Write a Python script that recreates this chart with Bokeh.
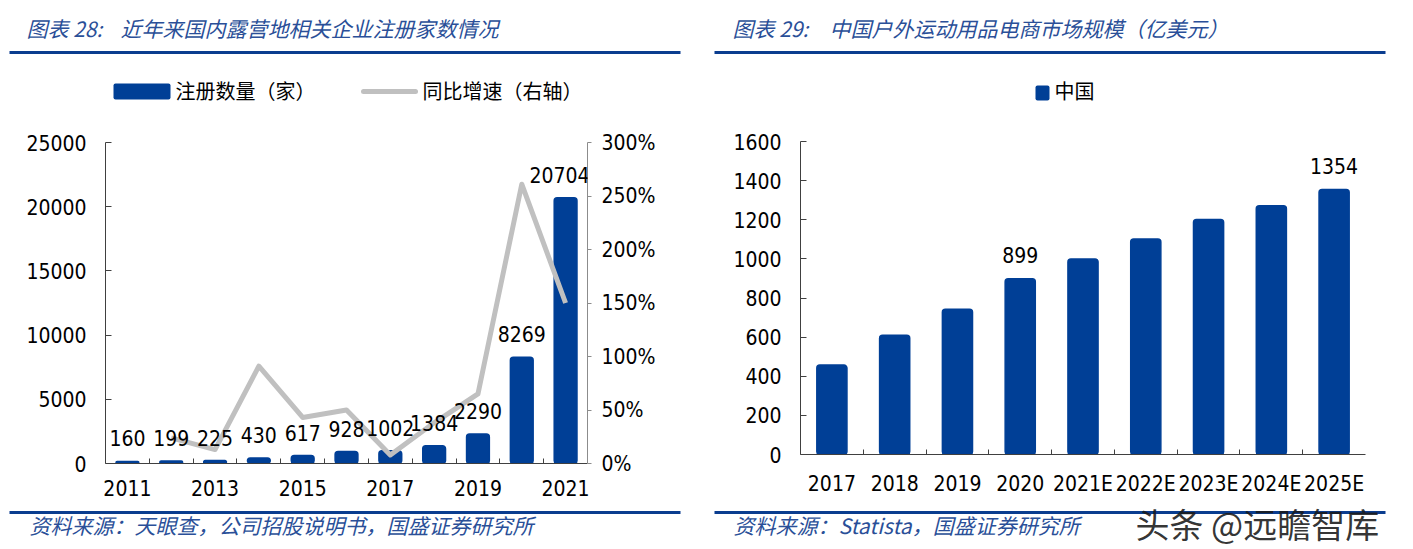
from bokeh.plotting import figure
from bokeh.models import (Range1d, LinearAxis, FixedTicker, ColumnDataSource,
                          LabelSet, Plot)
from bokeh.layouts import row, column
from bokeh.embed import file_html
from bokeh.resources import INLINE
from bokeh.core.properties import value

# ---------------- data: chart 28 ----------------
years_28 = ["2011", "2012", "2013", "2014", "2015", "2016",
            "2017", "2018", "2019", "2020", "2021"]
registrations = [160, 199, 225, 430, 617, 928, 1002, 1384, 2290, 8269, 20704]
yoy_growth_pct = [None, 24, 13, 91, 43, 50, 8, 38, 65, 261, 150]
tick_years_28 = ["2011", "2013", "2015", "2017", "2019", "2021"]
count_ticks = [0, 5000, 10000, 15000, 20000, 25000]
pct_ticks = [0, 50, 100, 150, 200, 250, 300]

# ---------------- data: chart 29 ----------------
years_29 = ["2017", "2018", "2019", "2020", "2021E", "2022E", "2023E", "2024E", "2025E"]
market_size = [457, 609, 742, 899, 1000, 1102, 1201, 1272, 1354]
shown_labels_29 = ["", "", "", "899", "", "", "", "", "1354"]
size_ticks = [0, 200, 400, 600, 800, 1000, 1200, 1400, 1600]

# ---------------- styles ----------------
BLUE = "#003f96"
RULE = "#0a3d8f"
TITLE_C = "#2a4f98"
GREY_LINE = "#c0c0c0"
AXIS_C = "#404040"
CJK = "Noto Sans CJK SC"
NUM = "DejaVu Sans Condensed, DejaVu Sans"
HAS_FRAME_ALIGN = "frame_align" in Plot.properties()


def no_align(p):
    if HAS_FRAME_ALIGN:
        p.frame_align = False


def clean(p):
    p.xgrid.visible = False
    p.ygrid.visible = False
    p.outline_line_color = None
    p.background_fill_color = "white"
    p.border_fill_color = "white"
    p.title.visible = False
    no_align(p)


def strip(width, height):
    """A decoration strip whose frame covers the whole figure (pixel coords, y down)."""
    p = figure(width=width, height=height, x_range=Range1d(0, width),
               y_range=Range1d(height, 0), output_backend="svg",
               toolbar_location=None, x_axis_location=None, y_axis_location=None,
               min_border_left=0, min_border_right=0, min_border_top=0,
               min_border_bottom=0)
    clean(p)
    return p


def stext(p, x, y, text, size, color="black", style="normal", font=CJK, alpha=1.0,
          baseline="middle"):
    p.text(x=[x], y=[y], text=[text], text_font=value(font), text_font_size=size,
           text_font_style=style, text_color=color, text_alpha=alpha,
           text_align="left", text_baseline=baseline)


def srect(p, x0, x1, y0, y1, color, radius=0):
    p.quad(left=[x0], right=[x1], top=[y0], bottom=[y1], fill_color=color,
           line_color=None, border_radius=radius)


def style_num_axis(ax, color, tin, tout, standoff):
    ax.axis_line_color = color
    ax.major_tick_line_color = color
    ax.major_tick_in = tin
    ax.major_tick_out = tout
    ax.minor_tick_line_color = None
    ax.major_label_text_font = NUM
    ax.major_label_text_font_size = "21px"
    ax.major_label_text_color = "black"
    ax.major_label_standoff = standoff


# ================= panel 1 (page x 0..705) =================
W1 = 705
h1 = strip(W1, 124)
stext(h1, 26, 27, "图表 28:", "21px", TITLE_C, "italic")
stext(h1, 120, 27, "近年来国内露营地相关企业注册家数情况", "21px", TITLE_C, "italic")
srect(h1, 9, 680, 50.5, 53.5, RULE)
srect(h1, 113, 170, 83, 99, BLUE, 2)
stext(h1, 175, 89.5, "注册数量（家）", "20px")
h1.segment(x0=[363], y0=[91], x1=[415], y1=[91], line_color=GREY_LINE,
           line_width=5, line_cap="round")
stext(h1, 422, 89.5, "同比增速（右轴）", "20px")

# chart: page y 124..507, frame 105..587 x 142..463
p1 = figure(width=W1, height=383, x_range=Range1d(-0.5, len(years_28) - 0.5),
            y_range=Range1d(0, 25000), output_backend="svg", toolbar_location=None,
            min_border_left=105, min_border_right=W1 - 587,
            min_border_top=18, min_border_bottom=44,
            x_axis_location=None, y_axis_location=None)
clean(p1)
p1.extra_y_ranges = {"pct": Range1d(0, 300)}

idx28 = list(range(len(years_28)))
src28 = ColumnDataSource(dict(
    x=idx28, top=registrations, lbl=[str(v) for v in registrations],
    g=[float("nan") if g is None else g for g in yoy_growth_pct],
    dx=[0] * (len(idx28) - 1) + [-6]))

yax = LinearAxis(ticker=FixedTicker(ticks=count_ticks))
style_num_axis(yax, AXIS_C, 6, 0, 19)
p1.add_layout(yax, "left")

rax = LinearAxis(y_range_name="pct", ticker=FixedTicker(ticks=pct_ticks),
                 major_label_overrides={t: f"{t}%" for t in pct_ticks})
style_num_axis(rax, "#8c8c8c", 0, 4, 10)
p1.add_layout(rax, "right")

xt = [i for i, y in enumerate(years_28) if y in tick_years_28]
xax = LinearAxis(ticker=FixedTicker(ticks=xt, minor_ticks=[i + 0.5 for i in idx28[:-1]]),
                 major_label_overrides={i: years_28[i] for i in xt})
style_num_axis(xax, AXIS_C, 0, 0, 16)
xax.major_tick_line_color = None
xax.minor_tick_line_color = AXIS_C
xax.minor_tick_in = 5
xax.minor_tick_out = 0
p1.add_layout(xax, "below")

p1.vbar(x="x", top="top", width=0.52, source=src28, fill_color=BLUE,
        line_color=BLUE, line_width=1.5, border_radius=3)
p1.line(x="x", y="g", source=src28, y_range_name="pct", line_color=GREY_LINE,
        line_width=5, line_join="round")
p1.add_layout(LabelSet(x="x", y="top", text="lbl", source=src28, y_offset=23,
                       x_offset="dx", text_align="center", text_baseline="middle",
                       text_font=value(NUM), text_font_size="21px", text_color="black"))

f1 = strip(W1, 549 - 507)
srect(f1, 9, 680, 510.5 - 507, 513.5 - 507, RULE)
stext(f1, 29, 524 - 507, "资料来源：天眼查，公司招股说明书，国盛证券研究所", "21px",
      TITLE_C, "italic")

# ================= panel 2 (page x 705..1413) =================
X2 = 705
W2 = 1413 - X2
h2 = strip(W2, 124)
stext(h2, 732 - X2, 27, "图表 29:", "21px", TITLE_C, "italic")
stext(h2, 829 - X2, 27, "中国户外运动用品电商市场规模（亿美元）", "21px", TITLE_C, "italic")
srect(h2, 714 - X2, 1385 - X2, 50.5, 53.5, RULE)
srect(h2, 1035 - X2, 1049 - X2, 85, 100, BLUE, 2)
stext(h2, 1054 - X2, 90, "中国", "20px")

# chart: page y 124..498, frame 800..1365 x 141..456
p2 = figure(width=W2, height=374, x_range=Range1d(-0.5, len(years_29) - 0.5),
            y_range=Range1d(0, 1600), output_backend="svg", toolbar_location=None,
            min_border_left=800 - X2, min_border_right=1413 - 1365,
            min_border_top=17, min_border_bottom=42,
            x_axis_location=None, y_axis_location=None)
clean(p2)
idx29 = list(range(len(years_29)))
src29 = ColumnDataSource(dict(x=idx29, top=market_size, lbl=shown_labels_29))

yax2 = LinearAxis(ticker=FixedTicker(ticks=size_ticks))
style_num_axis(yax2, AXIS_C, 6, 0, 19)
p2.add_layout(yax2, "left")

xax2 = LinearAxis(ticker=FixedTicker(ticks=idx29, minor_ticks=[i + 0.5 for i in idx29[:-1]]),
                  major_label_overrides={i: y for i, y in enumerate(years_29)})
style_num_axis(xax2, AXIS_C, 0, 0, 17)
xax2.major_tick_line_color = None
xax2.minor_tick_line_color = AXIS_C
xax2.minor_tick_in = 5
xax2.minor_tick_out = 0
p2.add_layout(xax2, "below")

p2.vbar(x="x", top="top", width=0.48, source=src29, fill_color=BLUE,
        line_color=BLUE, line_width=1.5, border_radius=3)
p2.add_layout(LabelSet(x="x", y="top", text="lbl", source=src29, y_offset=24,
                       text_align="center", text_baseline="middle",
                       text_font=value(NUM), text_font_size="21px", text_color="black"))

f2 = strip(W2, 549 - 498)
srect(f2, 714 - X2, 1385 - X2, 510.5 - 498, 513.5 - 498, RULE)
stext(f2, 733 - X2, 524 - 498, "资料来源：Statista，国盛证券研究所", "21px",
      TITLE_C, "italic")
# watermark: text box kept inside the strip (top anchored at the strip's top edge)
stext(f2, 1135 - X2, 0.5, "头条 @远瞻智库", "34px", "#1a1a1a", alpha=0.9, baseline="top")

layout = row(column(h1, p1, f1), column(h2, p2, f2))
open("out.html", "w").write(file_html(layout, INLINE))
